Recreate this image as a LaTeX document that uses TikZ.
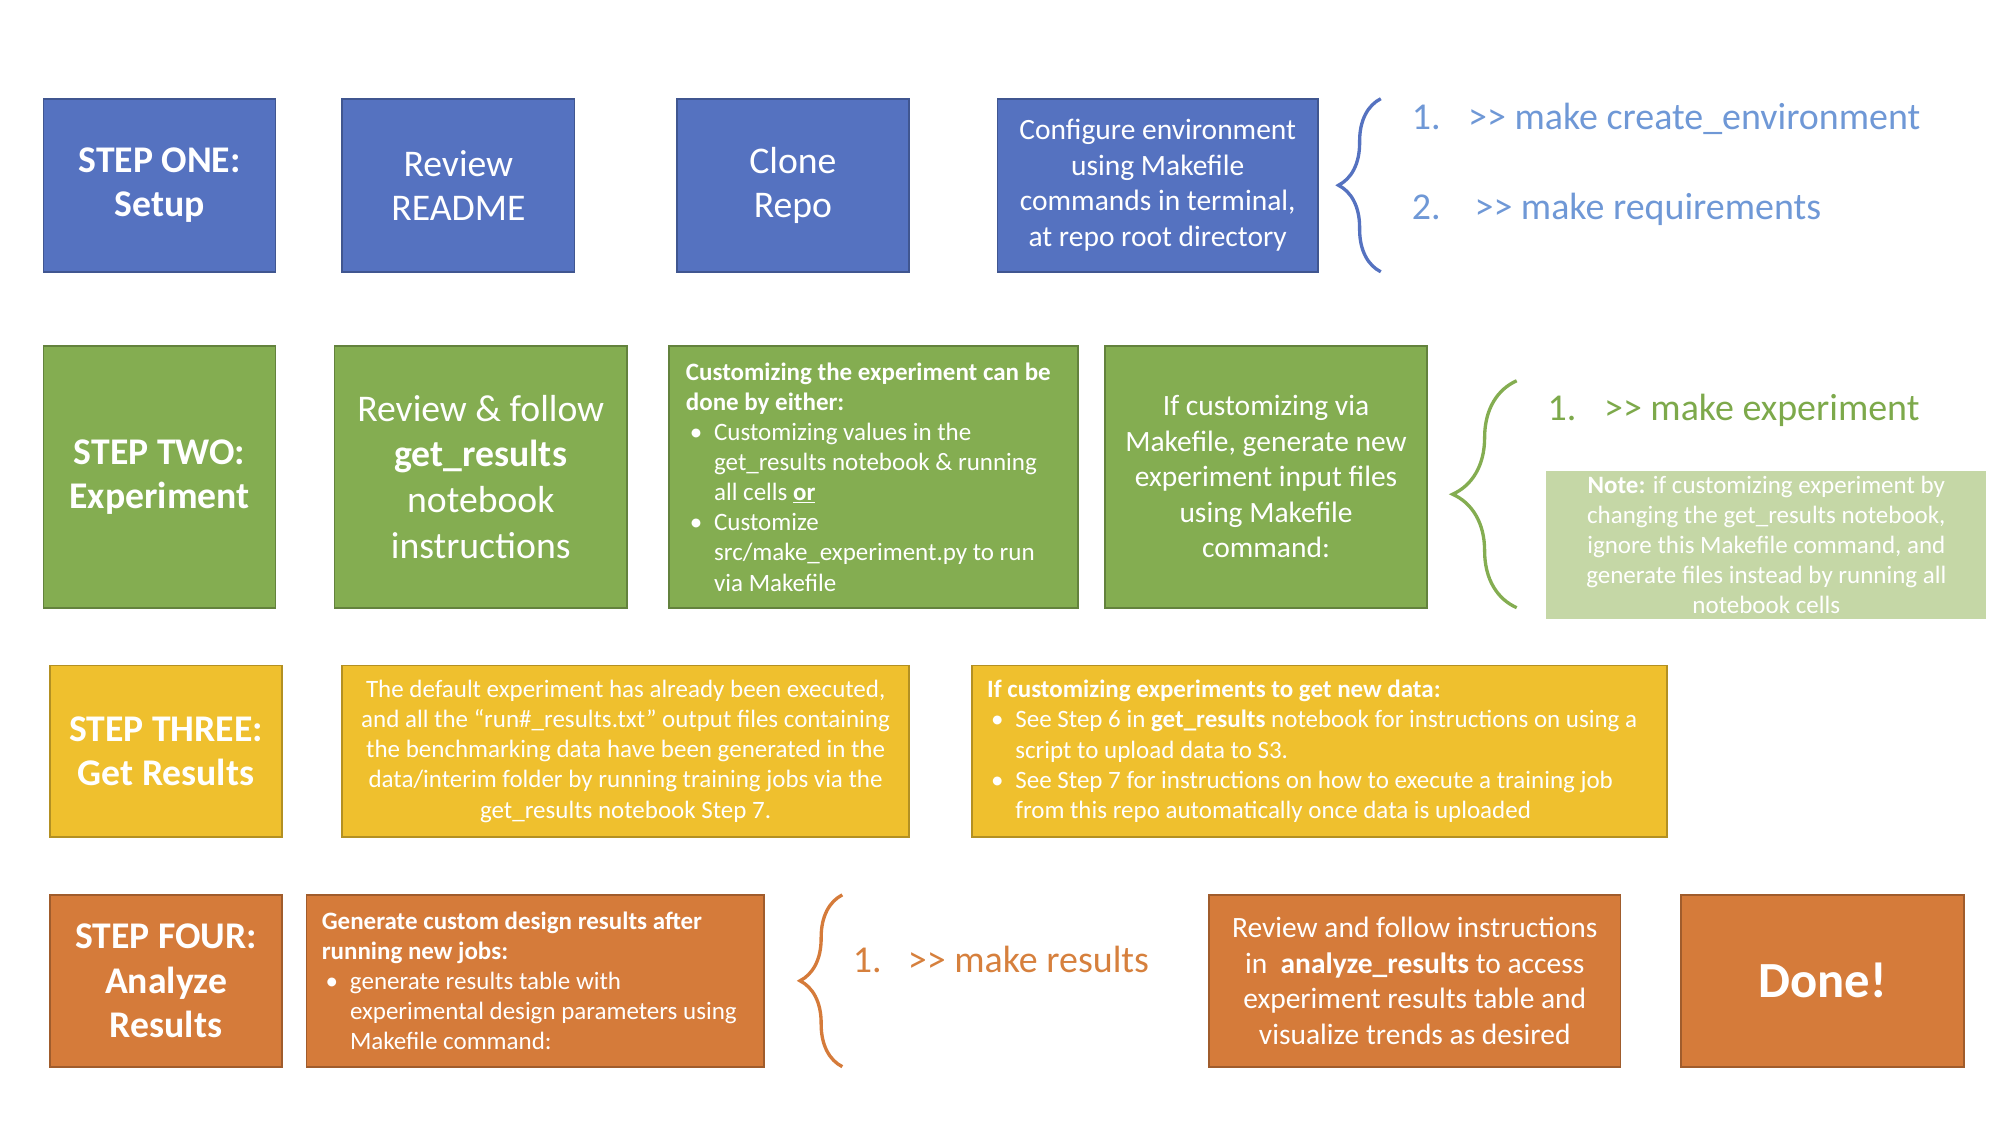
\documentclass[tikz,border=0pt]{standalone}
\usepackage{fontspec}
\setmainfont{Carlito}
\usetikzlibrary{positioning,calc,decorations.pathreplacing}

\definecolor{stepblue}{HTML}{5572C0}
\definecolor{stepgreen}{HTML}{84AD51}
\definecolor{stepyellow}{HTML}{EFC02E}
\definecolor{steporange}{HTML}{D57B3A}
\definecolor{notegreen}{HTML}{C5D7A6}
\definecolor{cmdblue}{HTML}{6F98D6}
\definecolor{cmdgreen}{HTML}{7DA94B}
\definecolor{cmdorange}{HTML}{D6803D}

\newcommand\prompt{>\kern0pt>}
\newcommand\bul{\makebox[22pt][l]{\hspace{3pt}•}}
\newcommand\hang{\hspace*{22pt}}

\tikzset{
  cell/.style={rectangle, draw=#1!75!black, fill=#1, line width=1.3pt,
    text=white, align=center, inner sep=0pt, outer sep=0pt, anchor=west},
  big/.style={font=\fontsize{29.4}{34}\selectfont},
  mid/.style={font=\fontsize{23}{27.7}\selectfont},
  small/.style={font=\fontsize{19.5}{23.5}\selectfont},
  cmd/.style={anchor=west, inner sep=0pt, font=\fontsize{29.6}{34}\selectfont},
  curly/.style={draw=#1, line width=2.6pt, decorate},
}

\begin{document}
\begin{tikzpicture}[x=1pt,y=-1pt]
  \useasboundingbox (0,0) rectangle (1560,877.5);

  % step one
  \path
  node[cell=stepblue, big, minimum width=181pt, minimum height=135pt, anchor=north west]
    (s1) at (34,77) {\textbf{STEP ONE:}\\\textbf{Setup}}
  node[cell=stepblue, big, minimum width=181pt, minimum height=135pt, right=52pt of s1]
    (readme) {Review\\README}
  node[cell=stepblue, big, minimum width=181pt, minimum height=135pt, right=80pt of readme]
    (clone) {Clone\\Repo}
  node[cell=stepblue, mid, minimum width=250pt, minimum height=135pt, right=69pt of clone]
    (cfg) {Configure environment\\using Makefile\\commands in terminal,\\at repo root directory}
  ;
  \coordinate (b1t) at ($(cfg.north east)+(49,0)$);
  \coordinate (b1b) at ($(cfg.south east)+(49,0)$);
  \draw[curly=stepblue, decoration={brace,amplitude=33pt}] (b1b) -- (b1t);
  \node[cmd, text=cmdblue] (env) at (1101,93) {\makebox[44pt][l]{1.}\prompt{} make create\_environment};
  \node[cmd, text=cmdblue] (req) at (1101,163) {\makebox[49pt][l]{2.}\prompt{} make requirements};

  % step two
  \path
  node[cell=stepgreen, big, minimum width=181pt, minimum height=204pt, anchor=north west]
    (s2) at (34,270) {\textbf{STEP TWO:}\\\textbf{Experiment}}
  node[cell=stepgreen, font=\fontsize{29.4}{35.7}\selectfont, minimum width=228pt, minimum height=204pt, right=46pt of s2]
    (follow) {Review \& follow\\\textbf{get\_results}\\notebook\\instructions}
  node[cell=stepgreen, small, minimum width=319pt, minimum height=204pt, text width=293pt, align=flush left, right=33pt of follow]
    (custom) {\textbf{Customizing the experiment can be}\\\textbf{done by either:}\\
      \bul Customizing values in the\\\hang get\_results notebook \& running\\\hang all cells \underline{\textbf{or}}\\
      \bul Customize\\\hang src/make\_experiment.py to run\\\hang via Makefile}
  node[cell=stepgreen, mid, minimum width=251pt, minimum height=204pt, right=21pt of custom]
    (gen) {If customizing via\\Makefile, generate new\\experiment input files\\using Makefile\\command:}
  ;
  \coordinate (b2t) at ($(gen.north east)+(70,27)$);
  \coordinate (b2b) at ($(gen.south east)+(70,0)$);
  \draw[curly=stepgreen, decoration={brace,amplitude=50pt}] (b2b) -- (b2t);
  \node[cmd, text=cmdgreen] (mkexp) at (1207,320) {\makebox[44pt][l]{1.}\prompt{} make experiment};
  \node[rectangle, fill=notegreen, text=white, small, align=center, inner sep=0pt,
    minimum width=343pt, minimum height=116pt, anchor=north west]
    (note) at (1206,367) {\textbf{Note:} if customizing experiment by\\changing the get\_results notebook,\\ignore this Makefile command, and\\generate files instead by running all\\notebook cells};

  % step three
  \path
  node[cell=stepyellow, big, minimum width=181pt, minimum height=134pt, anchor=north west]
    (s3) at (39,519) {\textbf{STEP THREE:}\\\textbf{Get Results}}
  node[cell=stepyellow, small, minimum width=442pt, minimum height=134pt, right=47pt of s3]
    (default) {The default experiment has already been executed,\\and all the “run\#\_results.txt” output files containing\\the benchmarking data have been generated in the\\data/interim folder by running training jobs via the\\get\_results notebook Step 7.}
  node[cell=stepyellow, small, minimum width=542pt, minimum height=134pt, text width=518pt, align=flush left, right=49pt of default]
    (newdata) {\textbf{If customizing experiments to get new data:}\\
      \bul See Step 6 in \textbf{get\_results} notebook for instructions on using a\\\hang script to upload data to S3.\\
      \bul See Step 7 for instructions on how to execute a training job\\\hang from this repo automatically once data is uploaded}
  ;

  % step four
  \path
  node[cell=steporange, font=\fontsize{29.4}{35}\selectfont, minimum width=181pt, minimum height=134pt, anchor=north west]
    (s4) at (39,698) {\textbf{STEP FOUR:}\\\textbf{Analyze}\\\textbf{Results}}
  node[cell=steporange, small, minimum width=357pt, minimum height=134pt, text width=333pt, align=flush left, right=19pt of s4]
    (design) {\textbf{Generate custom design results after}\\\textbf{running new jobs:}\\
      \bul generate results table with\\\hang experimental design parameters using\\\hang Makefile command:}
  node[cell=steporange, mid, minimum width=321pt, minimum height=134pt, right=347pt of design]
    (analyze) {Review and follow instructions\\in~ \textbf{analyze\_results} to access\\experiment results table and\\visualize trends as desired}
  node[cell=steporange, font=\fontsize{39.5}{44}\selectfont, minimum width=221pt, minimum height=134pt, right=47pt of analyze]
    (done) {\textbf{Done!}}
  ;
  \coordinate (b4t) at ($(design.north east)+(61,0)$);
  \coordinate (b4b) at ($(design.south east)+(61,0)$);
  \draw[curly=steporange, decoration={brace,amplitude=33pt}] (b4b) -- (b4t);
  \node[cmd, text=cmdorange] (mkres) at (665,748) {\makebox[43pt][l]{1.}\prompt{} make results};
\end{tikzpicture}
\end{document}
